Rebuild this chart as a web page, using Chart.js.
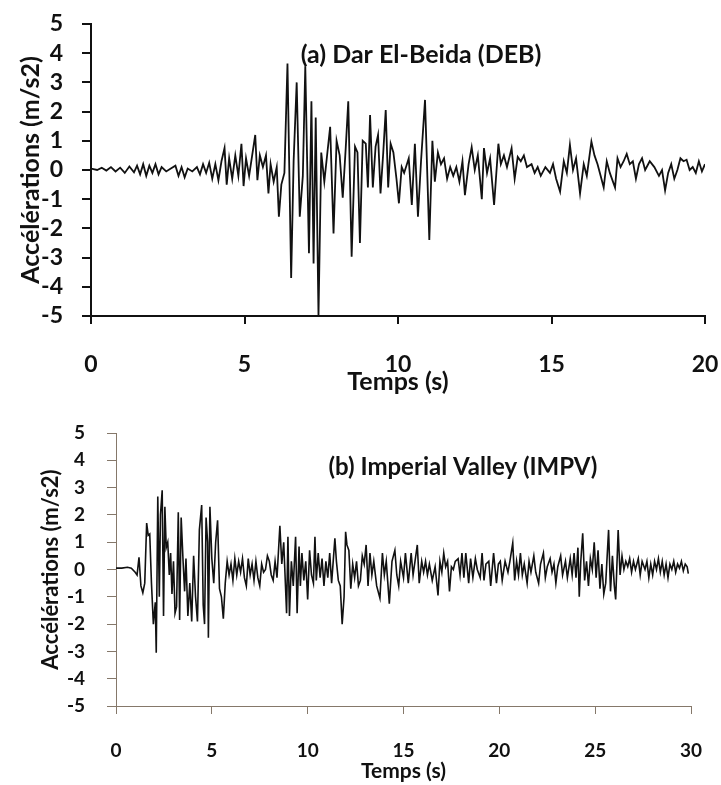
<!DOCTYPE html>
<html>
<head>
<meta charset="utf-8">
<script src="https://cdn.jsdelivr.net/npm/chart.js@4"></script>
<style>
  body { margin: 0; background: #fff; }
  #wrap { position: relative; width: 721px; height: 785px; }
  canvas { position: absolute; left: 0; }
  #chartA { top: 0; }
  #chartB { top: 400px; }
</style>
</head>
<body>
<div id="wrap">
  <canvas id="chartA" width="721" height="400"></canvas>
  <canvas id="chartB" width="721" height="385"></canvas>
</div>
<script>
// (a) Dar El-Beida (DEB) - turning points
const timeA = [
  0.0, 0.2, 0.35, 0.5, 0.65, 0.8, 0.95, 1.1, 1.25, 1.4,
  1.5, 1.6, 1.7, 1.8, 1.9, 2.0, 2.1, 2.2, 2.3, 2.45,
  2.6, 2.75, 2.85, 2.95, 3.05, 3.15, 3.3, 3.45, 3.55, 3.65,
  3.75, 3.85, 3.95, 4.05, 4.15, 4.25, 4.35, 4.42, 4.5, 4.6,
  4.7, 4.8, 4.9, 4.97, 5.05, 5.15, 5.25, 5.35, 5.42, 5.5,
  5.6, 5.7, 5.78, 5.85, 5.95, 6.05, 6.12, 6.2, 6.3, 6.4,
  6.52, 6.6, 6.7, 6.8, 6.9, 6.98, 7.1, 7.18, 7.25, 7.32,
  7.41, 7.5, 7.6, 7.7, 7.79, 7.9, 8.0, 8.1, 8.2, 8.3,
  8.38, 8.49, 8.6, 8.68, 8.76, 8.85, 8.95, 9.02, 9.09, 9.18,
  9.27, 9.35, 9.43, 9.52, 9.6, 9.68, 9.76, 9.85, 9.95, 10.03,
  10.12, 10.2, 10.35, 10.45, 10.55, 10.65, 10.75, 10.88, 11.02, 11.12,
  11.2, 11.3, 11.4, 11.5, 11.6, 11.7, 11.8, 11.9, 12.0, 12.1,
  12.18, 12.3, 12.4, 12.5, 12.6, 12.73, 12.8, 12.9, 13.0, 13.13,
  13.27, 13.35, 13.45, 13.55, 13.7, 13.8, 13.9, 14.0, 14.1, 14.2,
  14.35, 14.45, 14.55, 14.65, 14.8, 14.95, 15.05, 15.15, 15.28, 15.4,
  15.5, 15.6, 15.7, 15.8, 15.93, 16.05, 16.15, 16.3, 16.4, 16.5,
  16.6, 16.7, 16.8, 16.9, 17.07, 17.15, 17.25, 17.35, 17.45, 17.55,
  17.65, 17.75, 17.85, 17.95, 18.05, 18.2, 18.35, 18.5, 18.6, 18.7,
  18.8, 18.9, 19.0, 19.1, 19.2, 19.3, 19.4, 19.5, 19.6, 19.7,
  19.8, 19.9, 20.0
];
const accA = [
  0.05, 0.0, 0.08, -0.02, 0.1, -0.05, 0.08, -0.1, 0.12, -0.08,
  0.15, -0.15, 0.2, -0.2, 0.15, -0.1, 0.2, -0.15, 0.1, -0.05,
  0.05, 0.15, -0.2, 0.1, -0.25, 0.05, -0.05, 0.1, -0.15, 0.2,
  -0.1, 0.25, -0.3, 0.2, -0.35, 0.3, 0.75, -0.5, 0.4, -0.3,
  0.5, -0.2, 0.9, -0.55, 0.4, -0.2, 0.5, 1.2, -0.35, 0.5,
  0.1, 0.5, -0.8, 0.2, -0.4, 0.1, -1.6, -0.5, -0.1, 3.65,
  -3.7, 0.3, 3.0, -1.6, -0.2, 3.55, -2.85, 2.35, -3.2, 1.8,
  -5.0, 0.6, -0.4, 0.6, 1.48, -2.17, 1.0, 0.5, -0.95, 0.8,
  2.35, -2.97, 0.8, 0.6, -2.5, 1.0, 0.9, -0.6, 1.88, -0.6,
  0.8, 1.2, -0.8, 0.6, 2.05, -0.6, 0.9, 0.6, -0.3, -1.14,
  0.1, -0.1, 0.4, -1.2, 0.9, -1.6, 0.3, 2.4, -2.4, 1.0,
  -0.4, 0.6, 0.2, 0.4, -0.3, 0.1, -0.2, 0.1, -0.4, 0.3,
  -0.86, 0.2, 0.78, 0.0, 0.5, -1.0, 0.75, -0.1, 0.4, -1.2,
  0.9, 0.2, 0.5, 0.1, 0.74, -0.3, 0.45, 0.3, 0.5, 0.1,
  0.2, -0.1, 0.1, -0.2, 0.1, -0.1, 0.2, -0.3, -0.74, 0.3,
  -0.1, 0.86, 0.0, 0.4, -0.8, 0.2, -0.2, 0.97, 0.5, 0.2,
  -0.2, -0.6, 0.3, -0.1, -0.6, 0.4, 0.1, 0.3, 0.55, 0.2,
  0.3, -0.3, 0.2, 0.4, 0.0, 0.3, 0.1, -0.2, 0.0, -0.7,
  -0.1, 0.2, -0.3, 0.0, 0.4, 0.3, 0.35, 0.0, 0.1, -0.1,
  0.3, -0.05, 0.2
];

// (b) Imperial Valley (IMPV)
const timeB = [
  0.0, 0.3, 0.6, 0.8, 1.0, 1.1, 1.2, 1.3, 1.4, 1.5,
  1.6, 1.68, 1.76, 1.85, 1.95, 2.05, 2.1, 2.18, 2.26, 2.32,
  2.41, 2.48, 2.55, 2.62, 2.7, 2.78, 2.85, 2.92, 3.0, 3.08,
  3.16, 3.25, 3.32, 3.4, 3.5, 3.58, 3.65, 3.75, 3.85, 3.95,
  4.05, 4.15, 4.25, 4.35, 4.47, 4.55, 4.62, 4.7, 4.78, 4.82,
  4.9, 5.0, 5.1, 5.2, 5.3, 5.4, 5.5, 5.6, 5.7, 5.8,
  5.9, 6.0, 6.1, 6.2, 6.3, 6.4, 6.5, 6.6, 6.7, 6.8,
  6.9, 7.0, 7.1, 7.2, 7.3, 7.4, 7.5, 7.6, 7.7, 7.8,
  7.9, 8.0, 8.1, 8.2, 8.3, 8.4, 8.55, 8.65, 8.75, 8.9,
  8.97, 9.05, 9.15, 9.25, 9.37, 9.45, 9.55, 9.62, 9.7, 9.8,
  9.9, 10.0, 10.1, 10.2, 10.3, 10.38, 10.45, 10.55, 10.65, 10.75,
  10.85, 10.95, 11.05, 11.15, 11.25, 11.42, 11.5, 11.6, 11.7, 11.8,
  11.9, 11.98, 12.05, 12.15, 12.25, 12.35, 12.45, 12.55, 12.65, 12.75,
  12.85, 12.95, 13.05, 13.15, 13.25, 13.35, 13.45, 13.6, 13.77, 13.9,
  14.0, 14.1, 14.26, 14.4, 14.55, 14.65, 14.75, 14.85, 15.0, 15.1,
  15.25, 15.4, 15.5, 15.6, 15.72, 15.82, 15.95, 16.05, 16.15, 16.25,
  16.35, 16.5, 16.65, 16.8, 16.9, 17.0, 17.1, 17.2, 17.3, 17.4,
  17.5, 17.6, 17.7, 17.85, 17.95, 18.05, 18.15, 18.25, 18.4, 18.5,
  18.62, 18.75, 18.85, 19.0, 19.1, 19.2, 19.3, 19.45, 19.55, 19.7,
  19.85, 19.95, 20.05, 20.15, 20.3, 20.45, 20.55, 20.7, 20.8, 20.9,
  21.0, 21.1, 21.2, 21.3, 21.45, 21.55, 21.65, 21.8, 21.9, 22.05,
  22.15, 22.3, 22.4, 22.5, 22.65, 22.75, 22.85, 22.95, 23.05, 23.2,
  23.3, 23.45, 23.55, 23.7, 23.8, 23.9, 24.0, 24.1, 24.17, 24.25,
  24.35, 24.45, 24.55, 24.65, 24.75, 24.85, 24.95, 25.05, 25.15, 25.25,
  25.35, 25.45, 25.55, 25.7, 25.8, 25.9, 26.0, 26.07, 26.2, 26.3,
  26.4, 26.5, 26.6, 26.7, 26.8, 26.9, 27.0, 27.1, 27.25, 27.35,
  27.45, 27.6, 27.7, 27.8, 27.9, 28.0, 28.1, 28.2, 28.3, 28.4,
  28.5, 28.6, 28.7, 28.8, 28.9, 29.0, 29.1, 29.2, 29.3, 29.4,
  29.5, 29.6, 29.7, 29.8, 29.86
];
const accB = [
  0.05, 0.05, 0.08, 0.05, -0.1, -0.2, 0.45, -0.6, -0.85, -0.5,
  1.7, 1.25, 1.3, -0.5, -2.0, -1.2, -3.05, 2.67, -1.0, 2.0,
  2.9, -1.7, 2.3, 0.8, 1.0, -0.2, 0.6, -0.9, 0.3, -1.6,
  -1.36, 2.1, -1.85, 1.9, 0.3, -0.8, 0.4, -1.7, -0.5, -1.9,
  0.5, -1.0, -1.9, 1.45, 2.36, -1.3, -2.0, 1.9, 1.0, -2.5,
  2.3, 0.4, -0.5, 1.0, 1.8, -0.7, -1.0, -1.8, -0.5, 0.3,
  -0.2, 0.2, -0.4, 0.4, -0.2, 0.3, -0.1, 0.4, -0.3, -0.6,
  0.4, -0.2, 0.2, -0.4, 0.3, -0.3, -0.6, 0.2, -0.1, 0.0,
  0.5, 0.3, -0.2, -0.4, 0.3, -0.3, 1.6, 0.2, 1.0, -1.6,
  1.2, -1.7, 0.3, -0.6, 1.2, -1.6, 0.84, -0.6, 0.6, -0.4,
  0.3, -1.1, 0.7, -0.2, -0.5, 1.2, -0.4, 0.6, -0.3, 0.4,
  -0.6, 0.3, -0.3, 0.6, -0.5, 1.14, 0.3, -0.4, -0.6, -2.0,
  -1.0, 1.38, 0.9, 0.7, -0.7, 0.2, -0.3, 0.3, -0.6, -0.4,
  0.5, 0.2, 0.9, -0.6, 0.6, -0.2, 0.3, -0.6, -1.05, 0.6,
  -0.2, 0.3, -1.25, 0.3, 0.7, -0.2, -0.6, 0.3, -0.3, 0.6,
  -0.5, 0.6, -0.2, 0.3, 0.9, -0.5, 0.3, -0.1, 0.3, -0.2,
  0.2, -0.4, 0.1, -0.95, 0.3, -0.1, 0.6, 0.1, 0.3, -0.8,
  0.1, 0.0, 0.3, 0.4, -0.2, 0.6, -0.3, 0.6, -0.5, 0.4,
  -0.3, 0.4, 0.0, -0.3, 0.6, -0.4, 0.2, 0.3, -0.6, 0.6,
  -0.5, 0.2, 0.3, -0.4, 0.3, -0.1, 0.3, 0.97, -0.4, 0.3,
  -0.2, 0.6, -0.2, 0.2, -0.5, 0.3, -0.1, 0.5, -0.1, -0.5,
  0.2, 0.6, -0.3, 0.1, 0.4, -0.1, 0.2, -0.5, 0.1, 0.5,
  -0.2, 0.3, -0.3, 0.4, -0.2, 0.6, -0.3, 0.8, -1.0, 0.3,
  1.33, -0.4, 0.3, -0.6, 0.4, 0.0, 1.0, -0.3, 0.7, -0.7,
  0.2, -0.9, -0.5, 1.45, -0.8, 0.5, -0.6, -1.1, 1.45, -0.2,
  0.5, 0.0, 0.3, 0.1, 0.4, -0.1, 0.3, 0.0, 0.4, -0.2,
  0.3, 0.0, 0.3, -0.3, 0.2, -0.2, 0.3, 0.0, 0.4, -0.1,
  0.3, -0.2, 0.2, -0.3, 0.2, 0.0, 0.3, -0.1, 0.2, 0.05,
  0.3, -0.05, 0.2, 0.1, -0.15
];

const yMin = -5, yMax = 5;
const xTitle = 'Temps (s)';
const yTitle = 'Accélérations (m/s2)';
const FONT = 'Lato, "Open Sans", sans-serif';

// draws the panel caption inside the plot, placed in data units
const panelLabel = {
  id: 'panelLabel',
  afterDatasetsDraw(chart, args, opts) {
    const { ctx, scales } = chart;
    ctx.save();
    ctx.font = `bold ${opts.size}px ${FONT}`;
    ctx.fillStyle = '#111';
    ctx.textAlign = 'center';
    ctx.textBaseline = 'middle';
    ctx.fillText(opts.text, scales.x.getPixelForValue(opts.x), scales.y.getPixelForValue(opts.y));
    ctx.restore();
  }
};

function makeChart(id, times, acc, cfg) {
  const ctx = document.getElementById(id).getContext('2d');
  return new Chart(ctx, {
    type: 'line',
    data: {
      datasets: [{
        data: times.map((t, i) => ({ x: t, y: acc[i] })),
        borderColor: '#111',
        borderWidth: cfg.lineWidth,
        pointRadius: 0,
        tension: 0,
        fill: false
      }]
    },
    options: {
      responsive: false,
      animation: false,
      layout: { padding: { top: cfg.top, right: cfg.right, left: 0, bottom: 0 } },
      plugins: {
        legend: { display: false },
        tooltip: { enabled: false },
        panelLabel: cfg.label
      },
      scales: {
        x: {
          type: 'linear',
          min: 0,
          max: cfg.xMax,
          // fixed axis height; tick padding must not shrink the plot sideways
          afterFit: s => { s.height = cfg.xHeight; s.paddingLeft = 0; s.paddingRight = 0; },
          ticks: { stepSize: 5, autoSkip: false, color: '#111', padding: cfg.xTickPad, maxRotation: 0,
                   font: { family: FONT, size: cfg.xTickSize, weight: 'bold' } },
          grid: { drawOnChartArea: false, drawTicks: true, tickLength: 8,
                  color: cfg.axisColor, lineWidth: cfg.axisWidth },
          border: { display: true, color: cfg.axisColor, width: cfg.axisWidth },
          title: { display: true, text: xTitle, color: '#111',
                   padding: { top: 0, bottom: cfg.xTitlePad },
                   font: { family: FONT, size: cfg.xTitleSize, weight: 'bold' } }
        },
        y: {
          min: yMin,
          max: yMax,
          // fixed axis width; keep the label padding from pushing the plot down
          afterFit: s => { s.width = cfg.yWidth; s.paddingTop = 0; s.paddingBottom = 0; },
          ticks: { stepSize: 1, autoSkip: false, color: '#111', padding: cfg.yTickPad,
                   font: { family: FONT, size: cfg.yTickSize, weight: 'bold' } },
          grid: { drawOnChartArea: false, drawTicks: true, tickLength: 9,
                  color: cfg.axisColor, lineWidth: cfg.axisWidth },
          border: { display: true, color: cfg.axisColor, width: cfg.axisWidth },
          title: { display: true, text: yTitle, color: '#111',
                   padding: { top: cfg.yTitlePad, bottom: 0 },
                   font: { family: FONT, size: cfg.yTitleSize, weight: 'bold' } }
        }
      }
    },
    plugins: [panelLabel]
  });
}

makeChart('chartA', timeA, accA, {
  xMax: 20, top: 24, right: 16, xHeight: 84, yWidth: 91,
  lineWidth: 1.8, axisColor: '#111', axisWidth: 2,
  xTickSize: 23, xTickPad: 27, xTitleSize: 25, xTitlePad: 3,
  yTickSize: 23, yTickPad: 19, yTitleSize: 25, yTitlePad: 16,
  label: { text: '(a) Dar El-Beida (DEB)', x: 10.75, y: 3.94, size: 25 }
});

makeChart('chartB', timeB, accB, {
  xMax: 30, top: 33, right: 30, xHeight: 79, yWidth: 116,
  lineWidth: 1.6, axisColor: '#85786a', axisWidth: 1,
  xTickSize: 19, xTickPad: 25, xTitleSize: 21, xTitlePad: 1,
  yTickSize: 19, yTickPad: 22, yTitleSize: 22, yTitlePad: 38,
  label: { text: '(b) Imperial Valley (IMPV)', x: 18.1, y: 3.75, size: 24 }
});
</script>
</body>
</html>
